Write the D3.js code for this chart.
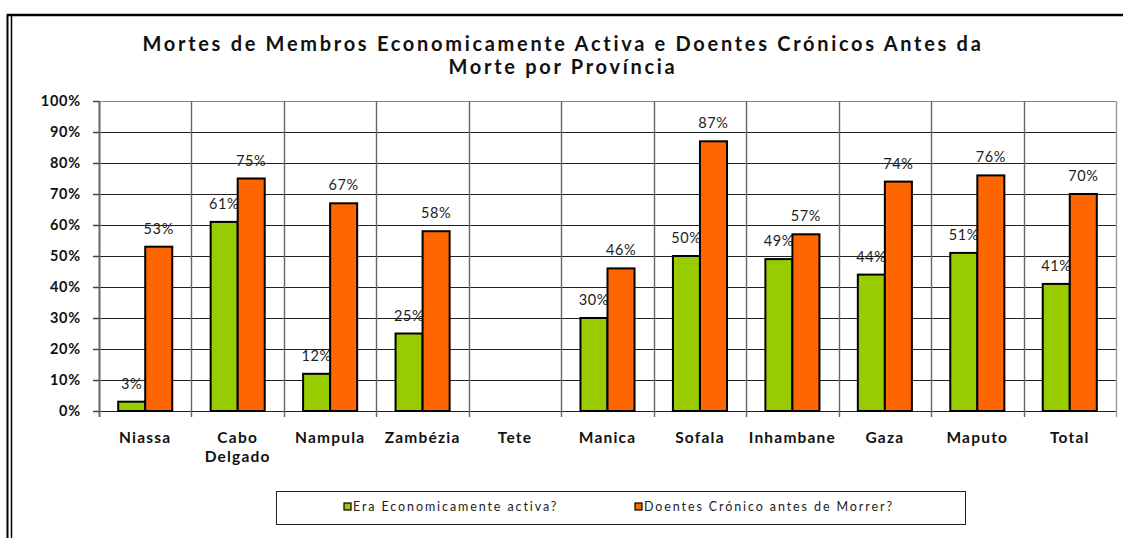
<!DOCTYPE html>
<html>
<head>
<meta charset="utf-8">
<script src="https://cdnjs.cloudflare.com/ajax/libs/d3/7.8.5/d3.min.js"></script>
<style>
  body { margin: 0; background: #fff; }
  svg { display: block; font-family: Lato, "Open Sans", sans-serif; }
</style>
</head>
<body>
<svg id="chart" width="1123" height="538"></svg>
<script>
// provinces and the two series (percent), Tete has no data
var provinces = ["Niassa", "Cabo Delgado", "Nampula", "Zambézia", "Tete", "Manica", "Sofala", "Inhambane", "Gaza", "Maputo", "Total"];
var activa = [3, 61, 12, 25, null, 30, 50, 49, 44, 51, 41];
var cronico = [53, 75, 67, 58, null, 46, 87, 57, 74, 76, 70];
var seriesNames = ["Era Economicamente activa?", "Doentes Crónico antes de Morrer?"];
var seriesColors = ["#99cc00", "#ff6600"];
var yTicks = [0, 10, 20, 30, 40, 50, 60, 70, 80, 90, 100];

var svg = d3.select("#chart");

// outer frame (double line left, line on top)
svg.append("line").attr("x1", 7).attr("x2", 1123).attr("y1", 15).attr("y2", 15)
  .attr("stroke", "#000").attr("stroke-width", 2.5);
svg.append("line").attr("x1", 7.5).attr("x2", 7.5).attr("y1", 14).attr("y2", 538)
  .attr("stroke", "#000").attr("stroke-width", 2);
svg.append("line").attr("x1", 11.5).attr("x2", 11.5).attr("y1", 16).attr("y2", 538)
  .attr("stroke", "#000").attr("stroke-width", 1.5);

// title
var title = svg.append("text").attr("text-anchor", "middle")
  .attr("font-size", 20).attr("font-weight", "bold").attr("fill", "#111")
  .attr("letter-spacing", 2.7);
title.append("tspan").attr("x", 563).attr("y", 51).text("Mortes de Membros Economicamente Activa e Doentes Crónicos Antes da");
title.append("tspan").attr("x", 563).attr("y", 74).text("Morte por Província");

var plotLeft = 99, plotRight = 1116, plotTop = 101, plotBottom = 411;

var x = d3.scaleBand().domain(provinces).range([plotLeft, plotRight]).paddingInner(0).paddingOuter(0);
var xSub = d3.scaleBand().domain([0, 1]).range([0, x.bandwidth()]).paddingInner(0).paddingOuter(0.71);
var y = d3.scaleLinear().domain([0, 100]).range([plotBottom, plotTop]);

// horizontal gridlines
svg.append("g").selectAll("line").data(yTicks).enter().append("line")
  .attr("x1", plotLeft).attr("x2", plotRight)
  .attr("y1", function(d) { return Math.round(y(d)) + 0.5; })
  .attr("y2", function(d) { return Math.round(y(d)) + 0.5; })
  .attr("stroke", function(d) { return d == 100 ? "#888" : "#222"; })
  .attr("stroke-width", 1.2);

// vertical gridlines at category boundaries
var bounds = provinces.map(function(p) { return x(p); }).concat([plotRight]);
svg.append("g").selectAll("line").data(bounds).enter().append("line")
  .attr("x1", function(d) { return Math.round(d) + 0.5; })
  .attr("x2", function(d) { return Math.round(d) + 0.5; })
  .attr("y1", plotTop).attr("y2", plotBottom + 6)
  .attr("stroke", function(d, i) { return i == bounds.length - 1 ? "#999" : "#666"; })
  .attr("stroke-width", function(d, i) { return i == 0 ? 2 : 1.4; });

// y axis
var yAxis = d3.axisLeft(y).tickValues(yTicks).tickSize(6).tickFormat(function(d) { return d + "%"; });
var gy = svg.append("g").attr("transform", "translate(" + plotLeft + ",0)").call(yAxis);
gy.select(".domain").remove();
gy.selectAll(".tick line").attr("stroke", "#444").attr("stroke-width", 1.5);
gy.selectAll(".tick text").attr("font-size", 14.5).attr("font-weight", "bold")
  .attr("fill", "#111").attr("font-family", "Lato, sans-serif").attr("x", -18)
  .attr("letter-spacing", 0.8);

// bars
var series = [activa, cronico];
series.forEach(function(vals, s) {
  var g = svg.append("g");
  var data = provinces.map(function(p, i) { return { p: p, v: vals[i] }; })
    .filter(function(d) { return d.v != null; });
  g.selectAll("rect").data(data).enter().append("rect")
    .attr("x", function(d) { return x(d.p) + xSub(s); })
    .attr("y", function(d) { return y(d.v); })
    .attr("width", xSub.bandwidth())
    .attr("height", function(d) { return y(0) - y(d.v); })
    .attr("fill", seriesColors[s])
    .attr("stroke", "#000").attr("stroke-width", 2);
  g.selectAll("text").data(data).enter().append("text")
    .attr("x", function(d) { return x(d.p) + xSub(s) + xSub.bandwidth() / 2; })
    .attr("y", function(d) { return y(d.v) - 13; })
    .attr("text-anchor", "middle").attr("font-size", 14.5).attr("fill", "#222")
    .attr("letter-spacing", 0.6)
    .text(function(d) { return d.v + "%"; });
});

// category labels
var cat = svg.append("g").selectAll("text").data(provinces).enter().append("text")
  .attr("text-anchor", "middle").attr("font-size", 15.5).attr("font-weight", "bold").attr("fill", "#111")
  .attr("letter-spacing", 1.2);
cat.each(function(p) {
  var words = p == "Cabo Delgado" ? ["Cabo", "Delgado"] : [p];
  var t = d3.select(this);
  words.forEach(function(w, k) {
    t.append("tspan").attr("x", x(p) + x.bandwidth() / 2).attr("y", 443 + k * 19).text(w);
  });
});

// legend
svg.append("rect").attr("x", 276.5).attr("y", 491.5).attr("width", 689).attr("height", 33)
  .attr("fill", "#fff").attr("stroke", "#222").attr("stroke-width", 1);
var legX = [344, 635];
seriesNames.forEach(function(n, s) {
  svg.append("rect").attr("x", legX[s]).attr("y", 503).attr("width", 7).attr("height", 7)
    .attr("fill", seriesColors[s]).attr("stroke", "#000").attr("stroke-width", 1.2);
  svg.append("text").attr("x", legX[s] + 9).attr("y", 511).attr("font-size", 12.5)
    .attr("fill", "#222").attr("letter-spacing", 1.9).text(n);
});
</script>
</body>
</html>
